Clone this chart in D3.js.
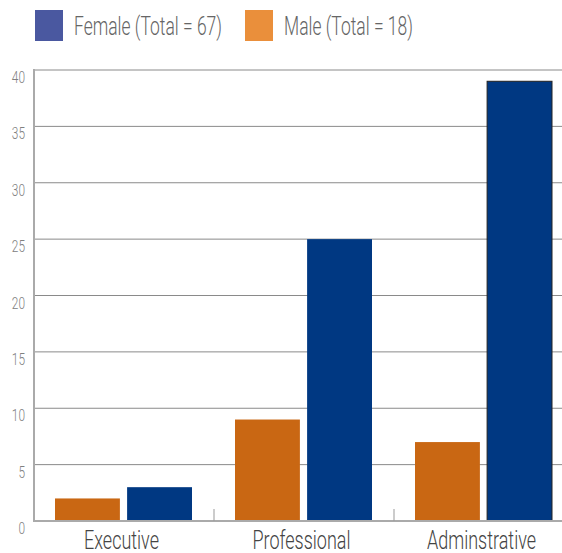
<!DOCTYPE html>
<meta charset="utf-8">
<script src="https://d3js.org/d3.v7.min.js"></script>
<style>
  body { margin: 0; background: #fff; }
  text { font-family: "Roboto", "Liberation Sans", sans-serif; font-weight: 300; }
</style>
<div id="chart"></div>
<script>
// data
var categories = ["Executive", "Professional", "Adminstrative"];
var series = ["Male", "Female"];
var maleValues = [2, 9, 7];
var femaleValues = [3, 25, 39];
var yTicks = [0, 5, 10, 15, 20, 25, 30, 35, 40];
var legendLabels = ["Female (Total = 67)", "Male (Total = 18)"];

var W = 562, H = 553;
var m = {left: 34, right: 574, top: 70, bottom: 521};
var squeeze = 0.7; // condensed type

var svg = d3.select("#chart").append("svg")
  .attr("width", W).attr("height", H);

var x = d3.scaleBand().domain(categories).range([m.left, m.right]);
var xs = d3.scaleBand().domain(series).range([21, 158]).paddingInner(0.1);
var y = d3.scaleLinear().domain([0, 40]).range([m.bottom, m.top]);

function place(px, py, k) {
  return "translate(" + px + "," + py + ") scale(" + (k || squeeze) + ",1)";
}

// gridlines
svg.append("g").selectAll("line")
  .data(yTicks.filter(function(d){ return d > 0; }))
  .enter().append("line")
  .attr("x1", m.left).attr("x2", W)
  .attr("y1", function(d){ return y(d); })
  .attr("y2", function(d){ return y(d); })
  .style("stroke", "#8a8a8a").style("stroke-width", 1);

// y labels
svg.append("g").selectAll("text")
  .data(yTicks).enter().append("text")
  .attr("transform", function(d){ return place(25, y(d) + 13); })
  .attr("text-anchor", "end")
  .style("font-size", "17px").style("fill", "#808080")
  .text(function(d){ return d; });

var colors = { Male: "#c96713", Female: "#003882" };
var vals = { Male: maleValues, Female: femaleValues };

series.forEach(function(s) {
  svg.append("g").selectAll("rect")
    .data(categories).enter().append("rect")
    .attr("x", function(d){ return x(d) + xs(s); })
    .attr("width", xs.bandwidth())
    .attr("y", function(d, i){ return y(vals[s][i]); })
    .attr("height", function(d, i){ return m.bottom - y(vals[s][i]); })
    .style("fill", colors[s])
    .style("stroke", function(d, i){ return (s === "Female" && i === 2) ? "#222" : "none"; })
    .style("stroke-width", 1);
});

// axes lines
svg.append("line").attr("x1", m.left).attr("x2", W)
  .attr("y1", m.bottom).attr("y2", m.bottom)
  .style("stroke", "#aaa").style("stroke-width", 2);
svg.append("line").attr("x1", m.left).attr("x2", m.left)
  .attr("y1", m.top - 1).attr("y2", m.bottom + 1)
  .style("stroke", "#aaa").style("stroke-width", 2);

// category separators
svg.append("g").selectAll("line")
  .data(categories.slice(1)).enter().append("line")
  .attr("x1", function(d){ return x(d); }).attr("x2", function(d){ return x(d); })
  .attr("y1", m.bottom - 12).attr("y2", m.bottom)
  .style("stroke", "#999").style("stroke-width", 1);

// category labels
svg.append("g").selectAll("text")
  .data(categories).enter().append("text")
  .attr("transform", function(d){ return place(x(d) + x.bandwidth() / 2 - 2.5, 549, 0.72); })
  .attr("text-anchor", "middle")
  .style("font-size", "25px").style("fill", "#444")
  .text(function(d){ return d; });

// legend
var legendColors = ["#4a58a0", "#ea8f3b"];
var legendX = [35, 245];
var lg = svg.append("g").selectAll("g")
  .data(legendLabels).enter().append("g")
  .attr("transform", function(d, i){ return "translate(" + legendX[i] + ",10)"; });
lg.append("rect").attr("width", 28).attr("height", 31)
  .style("fill", function(d, i){ return legendColors[i]; });
lg.append("text")
  .attr("transform", place(39, 25))
  .style("font-size", "25px").style("fill", "#666")
  .text(function(d){ return d; });
</script>
